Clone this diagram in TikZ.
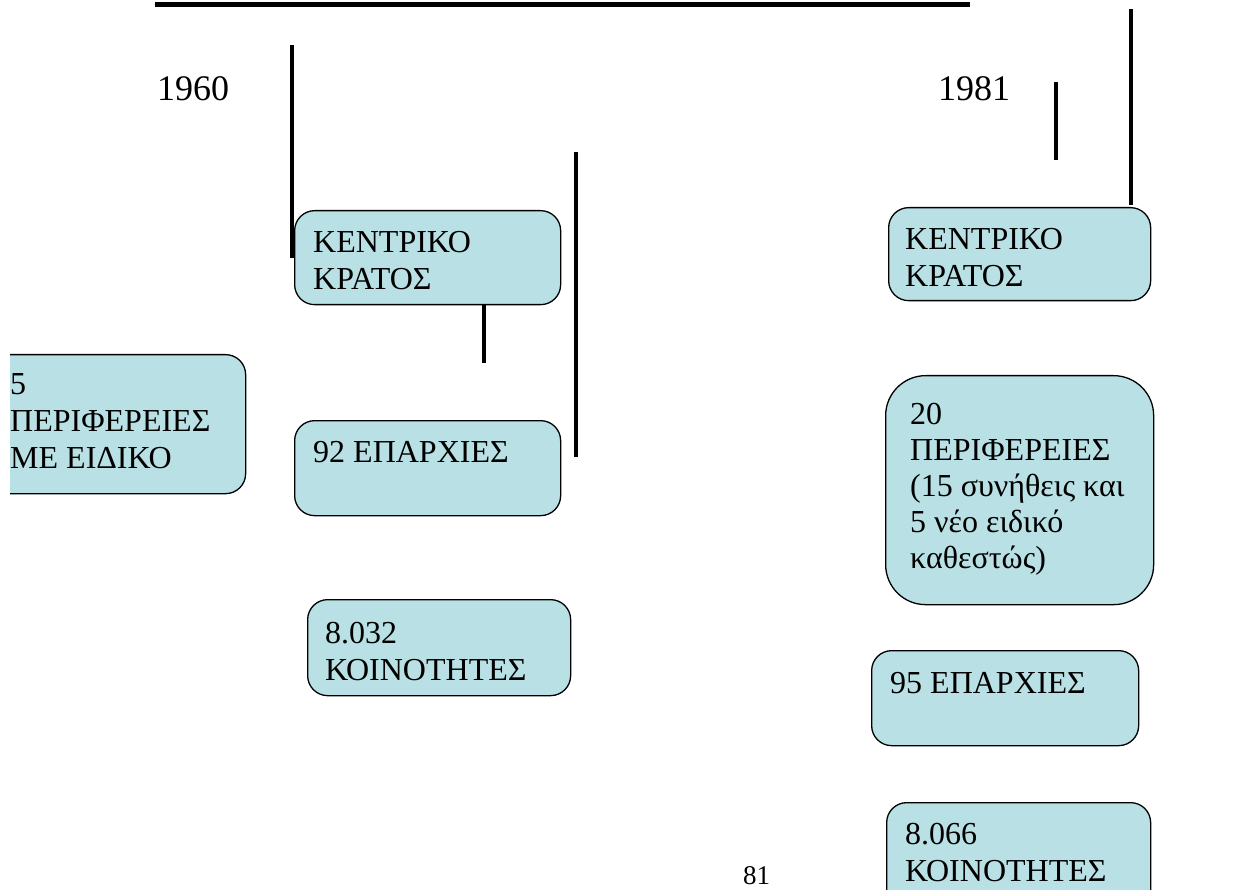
\documentclass[tikz,border=0pt]{standalone}
\usepackage{fontspec}
\setmainfont{Liberation Serif}
\definecolor{paleteal}{RGB}{185,224,228}
\usetikzlibrary{positioning}

\tikzset{
  unit/.style={draw=black, line width=1.3pt, fill=paleteal, rounded corners=20pt,
    anchor=north west, inner sep=0pt},
  boxtext/.style={anchor=north west, inner sep=0pt, align=left,
    font=\fontsize{32}{37}\selectfont},
  yeartext/.style={anchor=north west, inner sep=0pt, font=\fontsize{36}{40}\selectfont},
  bar/.style={line width=4.5pt},
}

\begin{document}
\begin{tikzpicture}[x=1pt, y=-1pt]
  \useasboundingbox (0,0) rectangle (1258,890);

  % free ends of the bars
  \coordinate (topL) at (155,5);
  \coordinate (topR) at (970,5);
  \coordinate (barAtop) at (292,45);
  \coordinate (barAbot) at (292,258);
  \coordinate (barBtop) at (576,152);
  \coordinate (barBbot) at (576,457);
  \coordinate (barCtop) at (484,304);
  \coordinate (barCbot) at (484,363);
  \coordinate (barDtop) at (1056,82);
  \coordinate (barDbot) at (1056,160);
  \coordinate (barEtop) at (1131,9);
  \coordinate (barEbot) at (1131,205);

  \draw[line width=5pt] (topL) -- (topR);
  \draw[bar] (barAtop) -- (barAbot);
  \draw[bar] (barBtop) -- (barBbot);
  \draw[bar] (barCtop) -- (barCbot);
  \draw[bar] (barDtop) -- (barDbot);
  \draw[bar] (barEtop) -- (barEbot);

  \node[yeartext] (year60) at (157,76) {1960};
  \node[yeartext] (year81) at (938,76) {1981};

  % 1960
  \node[unit, minimum width=266pt, minimum height=94pt] (kentro60) at (294,210) {};
  \node[boxtext, below right=21pt and 19pt of kentro60.north west] (kentro60t) {ΚΕΝΤΡΙΚΟ\\ΚΡΑΤΟΣ};

  \begin{scope}
    \clip (10,0) rectangle (1258,890);
    \node[unit, minimum width=275pt, minimum height=139pt] (perif60) at (-30,354) {};
    \node[boxtext, below right=19pt and 40pt of perif60.north west] (perif60t) {5\\ΠΕΡΙΦΕΡΕΙΕΣ\\ΜΕ ΕΙΔΙΚΟ};
  \end{scope}

  \node[unit, minimum width=266pt, minimum height=95pt] (eparx60) at (294,420) {};
  \node[boxtext, below right=21pt and 19pt of eparx60.north west] (eparx60t) {92 ΕΠΑΡΧΙΕΣ};

  \node[unit, minimum width=263pt, minimum height=96pt] (koin60) at (307,599) {};
  \node[boxtext, below right=23pt and 18pt of koin60.north west] (koin60t) {8.032\\ΚΟΙΝΟΤΗΤΕΣ};

  % 1981
  \node[unit, minimum width=262pt, minimum height=93pt] (kentro81) at (888,207) {};
  \node[boxtext, below right=21pt and 17pt of kentro81.north west] (kentro81t) {ΚΕΝΤΡΙΚΟ\\ΚΡΑΤΟΣ};

  \node[unit, rounded corners=40pt, minimum width=268pt, minimum height=229pt] (perif81) at (885,375) {};
  \node[boxtext, font=\fontsize{32}{36}\selectfont, below right=28pt and 25pt of perif81.north west] (perif81t)
    {20\\ΠΕΡΙΦΕΡΕΙΕΣ\\(15 συνήθεις και\\5 νέο ειδικό\\καθεστώς)};

  \node[unit, minimum width=267pt, minimum height=95pt] (eparx81) at (871,650) {};
  \node[boxtext, below right=22pt and 19pt of eparx81.north west] (eparx81t) {95 ΕΠΑΡΧΙΕΣ};

  \node[unit, minimum width=264pt, minimum height=110pt] (koin81) at (886,802) {};
  \node[boxtext, below right=21pt and 19pt of koin81.north west] (koin81t) {8.066\\ΚΟΙΝΟΤΗΤΕΣ};

  \node[anchor=north west, inner sep=0pt, font=\fontsize{27}{30}\selectfont] (pageno) at (743,866) {81};
\end{tikzpicture}
\end{document}
